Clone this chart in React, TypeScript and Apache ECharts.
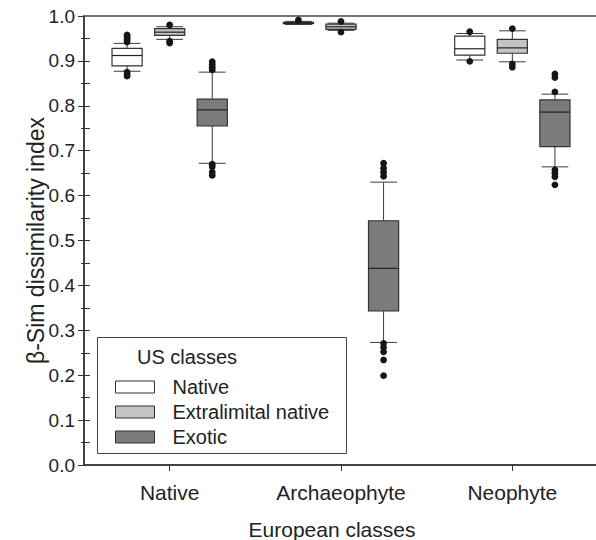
import React, { useEffect, useRef } from 'react';
import * as echarts from 'echarts';

const categories = ['Native', 'Archaeophyte', 'Neophyte'];
const usClasses = ['Native', 'Extralimital native', 'Exotic'];

// [min, Q1, median, Q3, max] per European class
const nativeBoxes = [
  [0.877, 0.889, 0.912, 0.928, 0.939],
  [0.981, 0.983, 0.984, 0.986, 0.988],
  [0.902, 0.913, 0.927, 0.955, 0.961],
];
const extralimitalBoxes = [
  [0.948, 0.957, 0.964, 0.972, 0.976],
  [0.968, 0.970, 0.976, 0.982, 0.984],
  [0.898, 0.917, 0.929, 0.948, 0.967],
];
const exoticBoxes = [
  [0.672, 0.755, 0.791, 0.815, 0.875],
  [0.273, 0.343, 0.438, 0.544, 0.630],
  [0.664, 0.709, 0.786, 0.813, 0.826],
];

// [category index, value]
const nativeOutliers = [
  [0, 0.942], [0, 0.947], [0, 0.951], [0, 0.955], [0, 0.958],
  [0, 0.875], [0, 0.870], [0, 0.866],
  [1, 0.991],
  [2, 0.965], [2, 0.899],
];
const extralimitalOutliers = [
  [0, 0.980], [0, 0.944], [0, 0.940],
  [1, 0.988], [1, 0.964],
  [2, 0.972], [2, 0.893], [2, 0.886],
];
const exoticOutliers = [
  [0, 0.898], [0, 0.892], [0, 0.886], [0, 0.880],
  [0, 0.670], [0, 0.664], [0, 0.652], [0, 0.645],
  [1, 0.672], [1, 0.661], [1, 0.652], [1, 0.643],
  [1, 0.271], [1, 0.262], [1, 0.252], [1, 0.234], [1, 0.199],
  [2, 0.871], [2, 0.863], [2, 0.831],
  [2, 0.657], [2, 0.650], [2, 0.642], [2, 0.624],
];

const innerTickValues = [
  0.05, 0.1, 0.15, 0.2, 0.25, 0.3, 0.35, 0.4, 0.45, 0.5,
  0.55, 0.6, 0.65, 0.7, 0.75, 0.8, 0.85, 0.9, 0.95,
];

const FONT = '"Liberation Sans", Arial, Helvetica, sans-serif';
const fills = ['#ffffff', '#c4c4c4', '#7b7b7d'];
const offsets = [-0.2485, 0, 0.2485];

function boxRenderer(offsetFrac: number, fill: string) {
  return (_params: any, api: any) => {
    const cat = api.value(0);
    const v = [1, 2, 3, 4, 5].map((i) => api.value(i));
    const band = api.size([1, 0])[0];
    const cx = api.coord([cat, 0])[0] + offsetFrac * band;
    const y = v.map((val) => api.coord([cat, val])[1]);
    const hw = band * 0.088;
    const cw = band * 0.078;
    const ws = { stroke: '#3a3a3a', lineWidth: 1 };
    return {
      type: 'group',
      children: [
        { type: 'line', shape: { x1: cx, y1: y[0], x2: cx, y2: y[1] }, style: ws },
        { type: 'line', shape: { x1: cx, y1: y[3], x2: cx, y2: y[4] }, style: ws },
        { type: 'line', shape: { x1: cx - cw, y1: y[0], x2: cx + cw, y2: y[0] }, style: ws },
        { type: 'line', shape: { x1: cx - cw, y1: y[4], x2: cx + cw, y2: y[4] }, style: ws },
        {
          type: 'rect',
          shape: { x: cx - hw, y: y[3], width: 2 * hw, height: y[1] - y[3] },
          style: { fill, stroke: '#333', lineWidth: 1.2 },
        },
        {
          type: 'line',
          shape: { x1: cx - hw, y1: y[2], x2: cx + hw, y2: y[2] },
          style: { stroke: '#222', lineWidth: 1.2 },
        },
      ],
    };
  };
}

function outlierRenderer(offsetFrac: number) {
  return (_params: any, api: any) => {
    const cat = api.value(0);
    const band = api.size([1, 0])[0];
    const p = api.coord([cat, api.value(1)]);
    return {
      type: 'circle',
      shape: { cx: p[0] + offsetFrac * band, cy: p[1], r: 3.4 },
      style: { fill: '#151515' },
    };
  };
}

export default function App() {
  const ref = useRef<HTMLDivElement>(null);
  useEffect(() => {
    if (!ref.current) return;
    const chart = echarts.init(ref.current, null, { renderer: 'svg' });
    const boxSets = [nativeBoxes, extralimitalBoxes, exoticBoxes];
    const outSets = [nativeOutliers, extralimitalOutliers, exoticOutliers];
    const series: any[] = [];
    usClasses.forEach((name, s) => {
      series.push({
        type: 'custom',
        name,
        data: boxSets[s].map((b, i) => [i, ...b]),
        encode: { x: 0, y: [1, 2, 3, 4, 5] },
        renderItem: boxRenderer(offsets[s], fills[s]),
        itemStyle: { color: fills[s], borderColor: '#333' },
        z: 3,
      });
      series.push({
        type: 'custom',
        name: name + ' outliers',
        data: outSets[s],
        encode: { x: 0, y: 1 },
        renderItem: outlierRenderer(offsets[s]),
        z: 4,
      });
    });

    chart.setOption({
      animation: false,
      textStyle: { fontFamily: FONT },
      grid: {
        left: 84,
        top: 16,
        right: -2,
        bottom: 75,
        outerBoundsMode: 'none',
        containLabel: false,
        show: true,
        borderColor: '#4a4a4a',
        borderWidth: 1.5,
        backgroundColor: 'transparent',
      },
      xAxis: {
        type: 'category',
        data: categories,
        axisLine: { show: true, lineStyle: { color: '#333', width: 1.5 } },
        axisTick: { show: true, alignWithLabel: true, length: 6, lineStyle: { color: '#333' } },
        axisLabel: { fontSize: 21, color: '#222', margin: 17, fontFamily: FONT },
        splitLine: { show: false },
        name: 'European classes',
        nameLocation: 'middle',
        nameGap: 54,
        nameMoveOverlap: false,
        nameTextStyle: { fontSize: 21, color: '#222', fontFamily: FONT, padding: [0, 18, 0, 0] },
      },
      yAxis: [
        {
          type: 'value',
          min: 0,
          max: 1,
          interval: 0.1,
          axisLine: { show: true, lineStyle: { color: '#333', width: 1.5 } },
          axisTick: { show: true, length: 6, lineStyle: { color: '#333' } },
          minorTick: { show: true, splitNumber: 2, length: 3, lineStyle: { color: '#333' } },
          axisLabel: {
            formatter: (v: number) => v.toFixed(1),
            fontSize: 19,
            color: '#222',
            margin: 9,
            fontFamily: FONT,
          },
          splitLine: { show: false },
          minorSplitLine: { show: false },
          name: 'β-Sim dissimilarity index',
          nameLocation: 'middle',
          nameGap: 37,
          nameMoveOverlap: false,
          nameTextStyle: { fontSize: 23, color: '#222', fontFamily: FONT },
        },
        {
          type: 'value',
          min: 0,
          max: 1,
          position: 'left',
          offset: 0,
          axisLine: { show: false },
          axisTick: {
            show: true,
            inside: true,
            length: 6,
            customValues: innerTickValues,
            lineStyle: { color: '#333' },
          },
          axisLabel: { show: false },
          splitLine: { show: false },
        },
      ],
      legend: {
        orient: 'vertical',
        left: 110,
        top: 372,
        itemWidth: 39,
        itemHeight: 12,
        itemGap: 5,
        icon: 'rect',
        selectedMode: false,
        textStyle: { fontSize: 20, color: '#222', fontFamily: FONT, padding: [0, 0, 0, 13] },
        data: usClasses.map((n, i) => ({
          name: n,
          itemStyle: { color: fills[i], borderColor: '#333', borderWidth: 1 },
        })),
      },
      graphic: [
        {
          type: 'rect',
          shape: { x: 97.5, y: 337.5, width: 249, height: 116 },
          style: { fill: 'none', stroke: '#444', lineWidth: 1 },
          z: 10,
        },
        {
          type: 'text',
          x: 137,
          y: 357,
          style: {
            text: 'US classes',
            fontSize: 20,
            fill: '#222',
            fontFamily: FONT,
            verticalAlign: 'middle',
          },
          z: 10,
        },
      ],
      series,
    });
    return () => chart.dispose();
  }, []);
  return (
    <div
      ref={ref}
      style={{ position: 'fixed', left: 0, top: 0, width: 596, height: 540, background: '#fff' }}
    />
  );
}
